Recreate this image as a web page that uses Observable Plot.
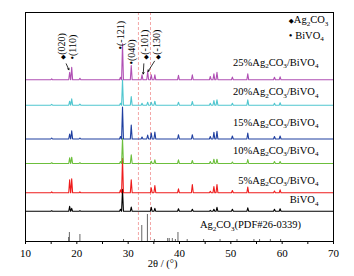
<!DOCTYPE html>
<html><head><meta charset="utf-8">
<script src="https://cdn.jsdelivr.net/npm/d3@7"></script>
<script src="https://cdn.jsdelivr.net/npm/@observablehq/plot@0.6"></script>
<style>html,body{margin:0;padding:0;background:#fff}svg{display:block}</style>
</head><body><div id="chart"></div>
<script>
// ---- data ----
const peakPositions = [15.1, 18.6, 19.0, 20.6, 28.5, 28.9, 30.6, 32.7, 33.8, 34.5, 35.2, 39.8, 42.5, 46.0, 46.7, 47.3, 50.3, 53.3, 58.5, 59.6];
const seriesNames = ["25%Ag2CO3/BiVO4", "20%Ag2CO3/BiVO4", "15%Ag2CO3/BiVO4", "10%Ag2CO3/BiVO4", "5%Ag2CO3/BiVO4", "BiVO4"];
const offsets = [161.7, 136.3, 102.5, 78, 48.7, 30.2];
const int25 = [1, 7.5, 12.5, 1.5, 2.5, 36, 14.3, 5, 8, 5, 5, 4.5, 5, 3.3, 6, 7.6, 2.7, 6, 2.5, 3];
const int20 = [0.8, 4, 6.3, 1, 2, 25.5, 8.7, 2, 3, 3, 4, 3, 3.7, 2, 4.7, 5.3, 2, 5.3, 2, 2.5];
const int15 = [1, 5, 8.3, 1, 2.5, 32, 14, 2, 4, 6, 7, 4.3, 4.3, 2.5, 6.6, 7.6, 3, 6, 2.5, 3];
const int10 = [0.8, 5.7, 6.3, 0.8, 2, 25, 8.7, 0, 0, 2.3, 3.7, 3.7, 3, 2, 4.3, 4.3, 1.5, 4, 2, 2];
const int5 = [1, 13, 14, 1, 3, 34.5, 13, 0, 0, 5, 7.3, 4, 8.3, 1.5, 6.3, 8.3, 2.3, 5.7, 1.7, 3];
const intBiVO4 = [0.5, 5, 3, 0.5, 2, 22, 4.3, 0, 0, 4, 3, 2.5, 2, 1, 2, 4, 2, 3.5, 2, 2.5];
const seriesIntensities = [int25, int20, int15, int10, int5, intBiVO4];
const seriesColors = ["#b050b4", "#50c6cf", "#1f3fa0", "#6cbf3c", "#ee1c1c", "#000000"];
const refName = "Ag2CO3(PDF#26-0339)";
const refPositions = [18.4, 18.55, 20.6, 29.1, 32.65, 33.75, 35.1, 37.7, 38.0, 38.6, 39.2, 39.7, 41.5, 44.7, 47.9, 51.2, 54.5, 55.6, 57.7, 59.7];
const refIntensities = [4, 9, 7, 2, 16, 27, 2, 3, 3, 3, 2, 9, 2, 2, 2, 2, 2, 2, 2, 2];
const markerLines = [32.0, 34.35];
const xTicks = [10, 15, 20, 25, 30, 35, 40, 45, 50, 55, 60, 65, 70];
const peakLabels = ["◆(020)", "•(110)", "•(-121)", "•(040)", "◆(-101)", "◆(-130)"];
const legendLabels = ["◆Ag2CO3", "• BiVO4"];
const xLabel = "2θ / (°)";

// ---- build ----
const halfWidth = 0.18;
function pattern(heights, base, name) {
  const pts = [{x: 10, y: base, s: name}];
  peakPositions.forEach((p, i) => {
    const h = heights[i];
    if (!h) return;
    pts.push({x: p - halfWidth, y: base, s: name}, {x: p, y: base + h, s: name}, {x: p + halfWidth, y: base, s: name});
  });
  pts.push({x: 70, y: base, s: name});
  return pts;
}
const lines = seriesNames.map((n, i) => pattern(seriesIntensities[i], offsets[i], n));
const sticks = refPositions.map((p, i) => ({p, h: refIntensities[i]}));

// layout of annotations
const labelLift = [17.3, 13.2, 16.8, 13, 12.3, 11.3];
const seriesLabelData = seriesNames.map((n, i) => ({t: n, y: offsets[i] + labelLift[i]}));
const peakLabelLayout = [
  {t: peakLabels[0], x: 17.15, y: 182},
  {t: peakLabels[1], x: 19.3, y: 182},
  {t: peakLabels[2], x: 28.55, y: 192},
  {t: peakLabels[3], x: 30.65, y: 177},
  {t: peakLabels[4], x: 33.25, y: 182},
  {t: peakLabels[5], x: 35.5, y: 182}
];
const top25 = i => offsets[0] + int25[i];
const arrows = [
  {x1: 17.93, y1: 177.7, x2: 18.45, y2: top25(1) + 2.5},
  {x1: 33.05, y1: 177.7, x2: 32.94, y2: top25(7) + 0.8},
  {x1: 35.13, y1: 180.3, x2: 33.86, y2: top25(8) + 0.3}
];

const font = '"Liberation Serif","Times New Roman",serif';
const chart = Plot.plot({
  width: 354, height: 276,
  marginLeft: 25, marginRight: 21, marginTop: 12, marginBottom: 35,
  x: {domain: [10, 70]},
  y: {domain: [0, 229], axis: null},
  style: {fontFamily: font, fontSize: "11px", color: "#000", background: "#fff", overflow: "visible"},
  marks: [
    Plot.ruleX(markerLines, {stroke: "#f29c9c", strokeDasharray: "3,2", strokeWidth: 0.9}),
    Plot.ruleX(sticks, {x: "p", y1: 0, y2: "h", stroke: "#555", strokeWidth: 0.9}),
    ...lines.slice().reverse().map((d, k) => Plot.line(d, {x: "x", y: "y", stroke: seriesColors[seriesColors.length - 1 - k], strokeWidth: 1.1, strokeLinejoin: "round"})),
    Plot.frame({stroke: "#000", strokeWidth: 1}),
    Plot.axisX({ticks: xTicks, tickSize: 3, tickPadding: 4.5, tickFormat: d => d % 10 === 0 ? d : "", fontSize: 11, label: null}),
    Plot.text([xLabel], {text: d => d, x: 36.7, frameAnchor: "bottom", dy: 25, fontSize: 10.5}),
    Plot.text(seriesLabelData, {text: "t", x: 67.08, y: "y", textAnchor: "end", fontSize: 10.5}),
    Plot.text([refName], {text: d => d, x: 53.83, y: 16.7, textAnchor: "middle", fontSize: 10.5}),
    Plot.text(legendLabels, {text: d => d, x: 61.3, y: (d, i) => [221.7, 206][i], textAnchor: "start", fontSize: 10.5}),
    Plot.text(peakLabelLayout, {text: "t", x: "x", y: "y", rotate: -90, textAnchor: "start", fontSize: 10}),
    Plot.arrow(arrows, {x1: "x1", y1: "y1", x2: "x2", y2: "y2", stroke: "#000", strokeWidth: 0.8, headLength: 3})
  ]
});

// subscripts for chemical formulas and smaller marker glyphs
const NS = "http://www.w3.org/2000/svg";
chart.querySelectorAll("text").forEach(t => {
  if (t.querySelector("tspan")) return;
  const s = t.textContent;
  if (!/[A-Za-z]\d|◆|•/.test(s)) return;
  t.textContent = "";
  let shifted = false;
  for (let i = 0; i < s.length; i++) {
    const c = s[i];
    const sp = document.createElementNS(NS, "tspan");
    sp.textContent = c;
    const isSub = /\d/.test(c) && i > 0 && /[A-Za-z]/.test(s[i - 1]);
    if (isSub) {
      sp.setAttribute("font-size", "0.68em");
      sp.setAttribute("dy", "2.6");
      shifted = true;
    } else {
      if (shifted) { sp.setAttribute("dy", "-2.6"); shifted = false; }
      if (c === "◆") { sp.setAttribute("font-size", "0.62em"); sp.setAttribute("font-family", "DejaVu Sans"); }
    }
    t.appendChild(sp);
  }
});
document.getElementById("chart").appendChild(chart);
</script>
</body></html>
